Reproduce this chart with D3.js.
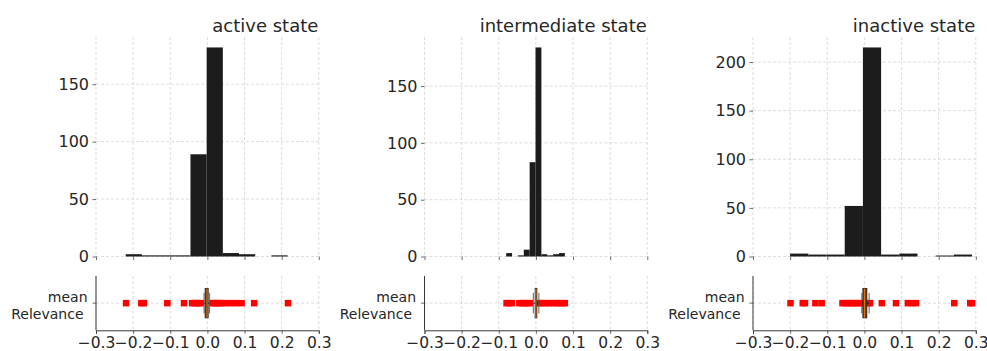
<!DOCTYPE html>
<html>
<head>
<meta charset="utf-8">
<script src="https://cdn.jsdelivr.net/npm/d3@7"></script>
<style>
  body { margin: 0; background: #fff; }
  text { font-family: "DejaVu Sans", sans-serif; fill: #262626; }
</style>
</head>
<body>
<svg id="chart" width="987" height="351"></svg>
<script>
// titles of the three states
const titles = ['active state', 'intermediate state', 'inactive state'];

// histogram range (min, max of relevance) and counts in 10 bins
const histMin = [-0.220, -0.080, -0.200];
const histMax = [0.216, 0.078, 0.290];
const countsActive = [2, 1, 1, 1, 89, 182, 3, 2, 0, 1];
const countsIntermediate = [3, 0, 1, 6, 83, 184, 2, 1, 2, 3];
const countsInactive = [3, 2, 2, 52, 215, 2, 3, 0, 1, 2];

// boxplot stats: lower whisker, q1, median, q3, upper whisker
const boxActive = [-0.009, -0.006, -0.001, 0.002, 0.006];
const boxIntermediate = [-0.007, -0.002, 0.0, 0.0025, 0.008];
const boxInactive = [-0.007, -0.004, 0.0, 0.0065, 0.0127];

// outliers (red squares)
const fliersActive = [-0.219, -0.178, -0.171, -0.108, -0.063,
  -0.041, -0.035, -0.029, -0.023, -0.018,
  0.014, 0.020, 0.026, 0.032, 0.038, 0.047, 0.062, 0.077, 0.092, 0.126, 0.217];
const fliersIntermediate = [-0.079, -0.072, -0.065,
  -0.0445, -0.037, -0.030, -0.023, -0.016,
  0.011, 0.017, 0.026, 0.036, 0.047, 0.056, 0.064, 0.071, 0.078];
const fliersInactive = [-0.199, -0.166, -0.160, -0.132, -0.115,
  -0.059, -0.052, -0.045, -0.038, -0.031, -0.024, -0.017, -0.010,
  0.010, 0.015, 0.047, 0.085, 0.117, 0.128, 0.139, 0.242, 0.285, 0.290];

const xTicks = [-0.3, -0.2, -0.1, 0.0, 0.1, 0.2, 0.3];
const yTicksActive = [0, 50, 100, 150];
const yTicksIntermediate = [0, 50, 100, 150];
const yTicksInactive = [0, 50, 100, 150, 200];

const allCounts = [countsActive, countsIntermediate, countsInactive];
const allBoxes = [boxActive, boxIntermediate, boxInactive];
const allFliers = [fliersActive, fliersIntermediate, fliersInactive];
const allYTicks = [yTicksActive, yTicksIntermediate, yTicksInactive];

const svg = d3.select('#chart');
const tickFont = 16;
const xTickFont = 15.5;
const labelFont = 14;
const gridColor = '#d4d4d4';

// layout
const panelLeft0 = 96, panelStep = 328.5, panelWidth = 222.8;
const histTop = 37, histBottom = 256.5;
const stripTop = 276, stripBottom = 330.3;

titles.forEach((title, i) => {
  const left = panelLeft0 + i * panelStep;
  const x = d3.scaleLinear().domain([-0.3, 0.3]).range([left, left + panelWidth]);
  const counts = allCounts[i];
  const yMax = d3.max(counts) * 1.05;
  const y = d3.scaleLinear().domain([0, yMax]).range([histBottom, histTop]);

  const g = svg.append('g');

  // grid for histogram
  g.append('g').selectAll('line').data(xTicks).join('line')
    .attr('x1', d => x(d)).attr('x2', d => x(d))
    .attr('y1', histTop).attr('y2', histBottom)
    .attr('stroke', gridColor).attr('stroke-width', 0.8).attr('stroke-dasharray', '3,2');
  g.append('g').selectAll('line').data(allYTicks[i]).join('line')
    .attr('x1', x.range()[0]).attr('x2', x.range()[1])
    .attr('y1', d => y(d)).attr('y2', d => y(d))
    .attr('stroke', gridColor).attr('stroke-width', 0.8).attr('stroke-dasharray', '3,2');

  // histogram bars
  const step = (histMax[i] - histMin[i]) / counts.length;
  g.append('g').selectAll('rect').data(counts).join('rect')
    .attr('x', (d, k) => x(histMin[i] + k * step))
    .attr('width', (d, k) => x(histMin[i] + (k + 1) * step) - x(histMin[i] + k * step))
    .attr('y', d => y(d))
    .attr('height', d => histBottom - y(d))
    .attr('fill', '#1c1c1c');

  // histogram axes (ticks only)
  const xAxisTop = g.append('g').attr('transform', `translate(0,${histBottom})`)
    .call(d3.axisBottom(x).tickValues(xTicks).tickSize(3.5).tickFormat(''));
  xAxisTop.select('.domain').remove();
  const yAxis = g.append('g').attr('transform', `translate(${x.range()[0]},0)`)
    .call(d3.axisLeft(y).tickValues(allYTicks[i]).tickSize(3.5).tickPadding(3.5));
  yAxis.select('.domain').remove();
  yAxis.selectAll('text').attr('font-size', tickFont).attr('font-family', null).style('fill', '#262626');
  [xAxisTop, yAxis].forEach(a => a.selectAll('line').attr('stroke', '#444').attr('stroke-width', 0.8));

  // title
  g.append('text')
    .attr('x', x.range()[1] - 0.5).attr('y', 31.5)
    .attr('text-anchor', 'end').attr('font-size', 18)
    .text(title);

  // strip: boxplot of mean relevance
  const ys = d3.scaleLinear().domain([0.5, 1.5]).range([stripBottom, stripTop]);
  const s = svg.append('g');
  s.append('g').selectAll('line').data(xTicks).join('line')
    .attr('x1', d => x(d)).attr('x2', d => x(d))
    .attr('y1', stripTop).attr('y2', stripBottom)
    .attr('stroke', gridColor).attr('stroke-width', 0.8).attr('stroke-dasharray', '3,2');
  s.append('line')
    .attr('x1', x.range()[0]).attr('x2', x.range()[1])
    .attr('y1', ys(1)).attr('y2', ys(1))
    .attr('stroke', gridColor).attr('stroke-width', 0.8).attr('stroke-dasharray', '3,2');

  const ms = 6.5;
  s.append('g').selectAll('rect').data(allFliers[i]).join('rect')
    .attr('x', d => x(d) - ms / 2).attr('y', ys(1) - ms / 2)
    .attr('width', ms).attr('height', ms)
    .attr('fill', '#ff0000');

  const [lo, q1, med, q3, hi] = allBoxes[i];
  s.append('line').attr('x1', x(lo)).attr('x2', x(q1)).attr('y1', ys(1)).attr('y2', ys(1))
    .attr('stroke', '#111').attr('stroke-width', 1);
  s.append('line').attr('x1', x(q3)).attr('x2', x(hi)).attr('y1', ys(1)).attr('y2', ys(1))
    .attr('stroke', '#111').attr('stroke-width', 1);
  [lo, hi].forEach(v => {
    s.append('line').attr('x1', x(v)).attr('x2', x(v)).attr('y1', ys(0.81)).attr('y2', ys(1.19))
      .attr('stroke', '#555').attr('stroke-width', 0.9);
  });
  s.append('rect')
    .attr('x', x(q1)).attr('width', x(q3) - x(q1))
    .attr('y', ys(1.27)).attr('height', ys(0.73) - ys(1.27))
    .attr('fill', '#6e3b14').attr('stroke', '#222').attr('stroke-width', 0.9);
  s.append('line').attr('x1', x(med)).attr('x2', x(med)).attr('y1', ys(0.73)).attr('y2', ys(1.27))
    .attr('stroke', '#ff7f0e').attr('stroke-width', 0.9);

  // strip axes
  const xAxis = s.append('g').attr('transform', `translate(0,${stripBottom})`)
    .call(d3.axisBottom(x).tickValues(xTicks).tickSize(3.5).tickPadding(3.5).tickFormat(d3.format('.1f')));
  xAxis.select('.domain').attr('stroke', '#222').attr('stroke-width', 0.9);
  xAxis.selectAll('line').attr('stroke', '#444').attr('stroke-width', 0.8);
  xAxis.selectAll('text').attr('font-size', xTickFont).attr('font-family', null).style('fill', '#262626');
  s.append('line')
    .attr('x1', x.range()[0]).attr('x2', x.range()[0])
    .attr('y1', stripTop).attr('y2', stripBottom)
    .attr('stroke', '#222').attr('stroke-width', 0.9);
  s.append('line')
    .attr('x1', x.range()[0] - 3.5).attr('x2', x.range()[0])
    .attr('y1', ys(1)).attr('y2', ys(1))
    .attr('stroke', '#444').attr('stroke-width', 0.8);
  const lbl = s.append('text').attr('text-anchor', 'end').attr('font-size', labelFont);
  lbl.append('tspan').attr('x', x.range()[0] - 8.5).attr('y', 301.7).text('mean');
  lbl.append('tspan').attr('x', x.range()[0] - 12.5).attr('y', 319).text('Relevance');
});
</script>
</body>
</html>
